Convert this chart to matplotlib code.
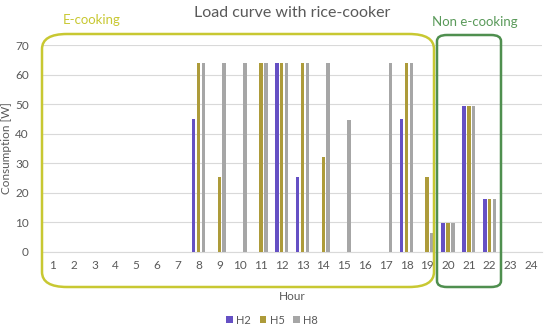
import matplotlib.pyplot as plt
from matplotlib.patches import FancyBboxPatch

hours = list(range(1, 25))
h2 = [0, 0, 0, 0, 0, 0, 0, 45, 0, 0, 0, 64, 25.5, 0, 0, 0, 0, 45, 0, 9.7, 49.5, 17.8, 0, 0]
h5 = [0, 0, 0, 0, 0, 0, 0, 64, 25.5, 0, 64, 64, 64, 32, 0, 0, 0, 64, 25.5, 9.7, 49.5, 17.8, 0, 0]
h8 = [0, 0, 0, 0, 0, 0, 0, 64, 64, 64, 64, 64, 64, 64, 44.6, 0, 64, 64, 6.5, 9.7, 49.5, 17.8, 0, 0]

series = [("H2", h2, "#6550c4"), ("H5", h5, "#ad9b3a"), ("H8", h8, "#a6a6a6")]

plt.rcParams["font.family"] = ["Lato", "DejaVu Sans"]
txt = "#595959"

fig = plt.figure(figsize=(5.5, 3.31), dpi=100)
ax = fig.add_axes([42.6 / 550, 79 / 331, 499 / 550, 207 / 331])

step = 0.235
width = 0.17
for i, (name, vals, col) in enumerate(series):
    xs = [h + (i - 1) * step for h in hours]
    ax.bar(xs, vals, width=width, color=col, label=name, zorder=3)

ax.set_xlim(0.5, 24.5)
ax.set_ylim(0, 70)
ax.set_xticks(hours)
ax.set_yticks(range(0, 71, 10))
ax.tick_params(axis="both", length=0, labelsize=8.5, colors=txt)
ax.tick_params(axis="x", pad=6)
ax.tick_params(axis="y", pad=10)
ax.grid(axis="y", color="#d9d9d9", linewidth=0.8, zorder=0)
for s in ["top", "right", "left"]:
    ax.spines[s].set_visible(False)
ax.spines["bottom"].set_color("#d9d9d9")
ax.set_ylabel("Consumption [W]", fontsize=8.5, color=txt)
ax.yaxis.set_label_coords(-0.062, 0.5)
ax.set_xlabel("Hour", fontsize=8.5, color=txt, labelpad=14)
ax.set_title("Load curve with rice-cooker", fontsize=11.5, color=txt, pad=20)

ax.legend(loc="center", bbox_to_anchor=(0.46, -0.33), ncol=3, frameon=False,
          fontsize=8, handlelength=0.6, handleheight=0.6, handletextpad=0.3,
          columnspacing=0.8, labelcolor=txt)

# rounded group boxes (figure pixel coords)
def box(x0, y0, x1, y1, color, r):
    p = FancyBboxPatch((x0 / 550, 1 - y1 / 331), (x1 - x0) / 550, (y1 - y0) / 331,
                       boxstyle=f"round,pad=0,rounding_size={r / 550}",
                       transform=fig.transFigure, fill=False, edgecolor=color,
                       linewidth=1.8, clip_on=False)
    fig.patches.append(p)

box(42, 34, 434, 287, "#c8c832", 25)
box(437, 35, 501, 287, "#4f8f4f", 10)
fig.text(92 / 550, 1 - 20 / 331, "E-cooking", ha="center", va="center", fontsize=9.5, color="#c8c832")
fig.text(475 / 550, 1 - 22 / 331, "Non e-cooking", ha="center", va="center", fontsize=9.5, color="#5a9a5a")

fig.savefig("out.png", dpi=100)
